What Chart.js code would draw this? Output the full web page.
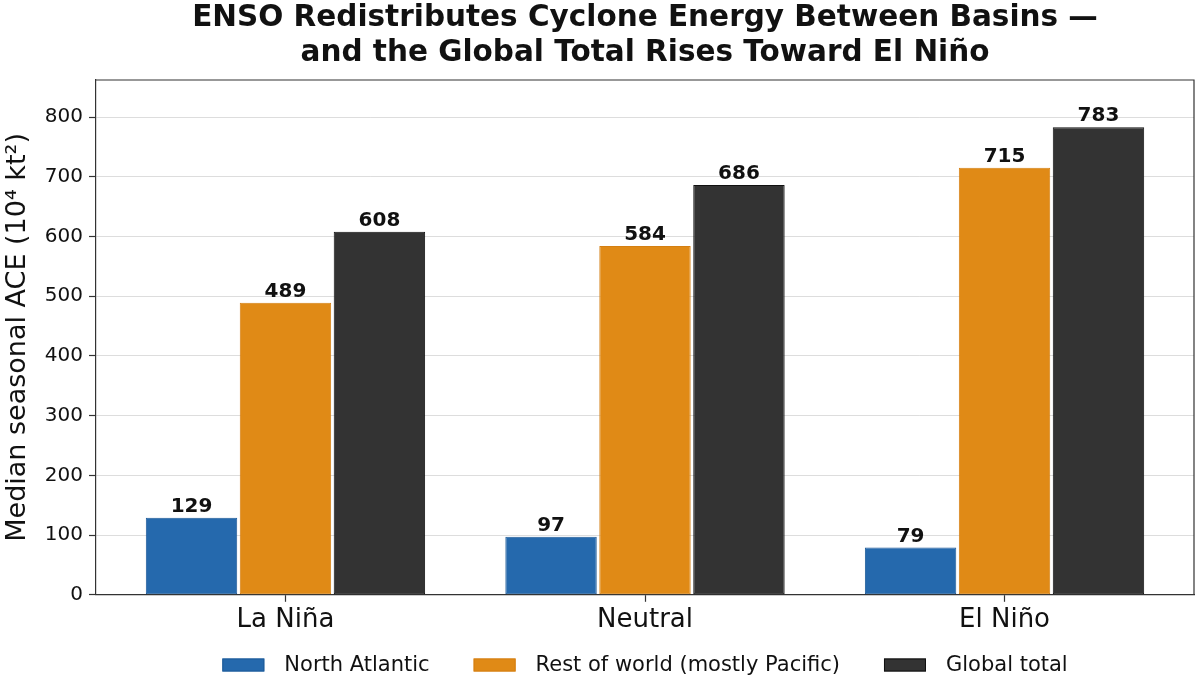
<!DOCTYPE html>
<html>
<head>
<meta charset="utf-8">
<script src="https://cdn.jsdelivr.net/npm/chart.js@4.4.1/dist/chart.umd.min.js"></script>
<style>
html,body{margin:0;padding:0;background:#ffffff;}
#wrap{width:1200px;height:678px;position:relative;}
</style>
</head>
<body>
<div id="wrap"><canvas id="c" width="1200" height="678"></canvas></div>
<script>
// ---- data ----
const categories = ['La Niña', 'Neutral', 'El Niño'];
const seriesLabels = ['North Atlantic', 'Rest of world (mostly Pacific)', 'Global total'];
const northAtlantic = [129, 97, 79];
const restOfWorld = [489, 584, 715];
const globalTotal = [608, 686, 783];
const yTickValues = [0, 100, 200, 300, 400, 500, 600, 700, 800];
const titleLines = ['ENSO Redistributes Cyclone Energy Between Basins \u2014', 'and the Global Total Rises Toward El Niño'];
const yAxisTitle = 'Median seasonal ACE (10\u2074 kt\u00B2)';

// ---- styles ----
const FONT = "'DejaVu Sans', 'Liberation Sans', sans-serif";
const fills = ['#2569AD', '#E08A16', '#333333'];
const edges = ['#1d5a98', '#d47f12', '#111111'];

const titlePlugin = {
  id: 'customTitle',
  afterDraw(chart) {
    const ctx = chart.ctx, a = chart.chartArea;
    const cx = (a.left + a.right) / 2;
    ctx.save();
    ctx.fillStyle = '#111';
    ctx.font = 'bold 29.5px ' + FONT;
    ctx.textAlign = 'center';
    ctx.textBaseline = 'alphabetic';
    ctx.fillText(titleLines[0], cx, 26);
    ctx.fillText(titleLines[1], cx, 61);
    ctx.restore();
  }
};

const framePlugin = {
  id: 'frame',
  afterDraw(chart) {
    const ctx = chart.ctx, a = chart.chartArea;
    ctx.save();
    ctx.strokeStyle = '#333';
    ctx.lineWidth = 1.2;
    ctx.beginPath();
    ctx.moveTo(a.left, a.top);
    ctx.lineTo(a.right, a.top);
    ctx.lineTo(a.right, a.bottom);
    ctx.stroke();
    ctx.restore();
  }
};

const valueLabelPlugin = {
  id: 'valueLabels',
  afterDatasetsDraw(chart) {
    const ctx = chart.ctx;
    ctx.save();
    ctx.fillStyle = '#111';
    ctx.font = 'bold 20px ' + FONT;
    ctx.textAlign = 'center';
    ctx.textBaseline = 'alphabetic';
    chart.data.datasets.forEach((ds, di) => {
      const meta = chart.getDatasetMeta(di);
      meta.data.forEach((el, i) => {
        ctx.fillText(String(seriesData[di][i]), el.x, el.y - 6);
      });
    });
    ctx.restore();
  }
};

const legendPlugin = {
  id: 'bottomLegend',
  afterDraw(chart) {
    const ctx = chart.ctx, a = chart.chartArea;
    const cx = (a.left + a.right) / 2;
    const y = 665;
    const boxW = 42, boxH = 13, boxGap = 20, itemGap = 44;
    ctx.save();
    ctx.font = '21px ' + FONT;
    const widths = chart.data.datasets.map(ds => boxW + boxGap + ctx.measureText(ds.label).width);
    const total = widths.reduce((s, w) => s + w, 0) + itemGap * (widths.length - 1);
    let x = cx - total / 2;
    chart.data.datasets.forEach((ds, i) => {
      ctx.fillStyle = ds.backgroundColor;
      ctx.fillRect(x, y - boxH / 2, boxW, boxH);
      ctx.strokeStyle = ds.borderColor;
      ctx.lineWidth = 1;
      ctx.strokeRect(x + 0.5, y - boxH / 2 + 0.5, boxW - 1, boxH - 1);
      ctx.fillStyle = '#111';
      ctx.textAlign = 'left';
      ctx.textBaseline = 'middle';
      ctx.fillText(ds.label, x + boxW + boxGap, y + 1);
      x += widths[i] + itemGap;
    });
    ctx.restore();
  }
};

const seriesData = [northAtlantic, restOfWorld, globalTotal];

new Chart(document.getElementById('c'), {
  type: 'bar',
  data: {
    datasets: seriesData.map((d, i) => ({
      label: seriesLabels[i],
      data: d.map((v, k) => ({ x: k, y: v })),
      backgroundColor: fills[i],
      borderColor: edges[i],
      borderWidth: 1,
      borderSkipped: false,
      barPercentage: 0.973,
      categoryPercentage: 0.784
    }))
  },
  options: {
    responsive: false,
    animation: false,
    devicePixelRatio: 1,
    layout: { padding: { top: 80, right: 6, left: 0, bottom: 39 } },
    plugins: {
      legend: { display: false },
      title: { display: false },
      tooltip: { enabled: false }
    },
    scales: {
      x: {
        type: 'linear',
        min: -0.527,
        max: 2.527,
        offset: false,
        afterBuildTicks(axis) {
          axis.ticks = categories.map((c, k) => ({ value: k }));
        },
        grid: { display: true, offset: false, drawOnChartArea: false, tickLength: 7, tickColor: '#333', tickWidth: 1.2 },
        border: { color: '#333', width: 1.2 },
        ticks: {
          font: { family: FONT, size: 26 }, color: '#111', padding: 3, maxRotation: 0, autoSkip: false,
          callback: (v) => categories[v]
        }
      },
      y: {
        min: 0,
        max: 862,
        z: 1,
        afterBuildTicks(axis) {
          axis.ticks = yTickValues.map(v => ({ value: v }));
        },
        afterFit(axis) { axis.width = 96; },
        grid: { color: 'rgba(170,170,170,0.4)', lineWidth: 1, tickLength: 7, tickColor: '#333', tickWidth: 1.2 },
        border: { color: '#333', width: 1.2 },
        ticks: { font: { family: FONT, size: 20 }, color: '#111', padding: 6 },
        title: { display: true, text: yAxisTitle, font: { family: FONT, size: 27 }, color: '#111', padding: { top: 2, bottom: 4 } }
      }
    }
  },
  plugins: [titlePlugin, framePlugin, valueLabelPlugin, legendPlugin]
});
</script>
</body>
</html>
